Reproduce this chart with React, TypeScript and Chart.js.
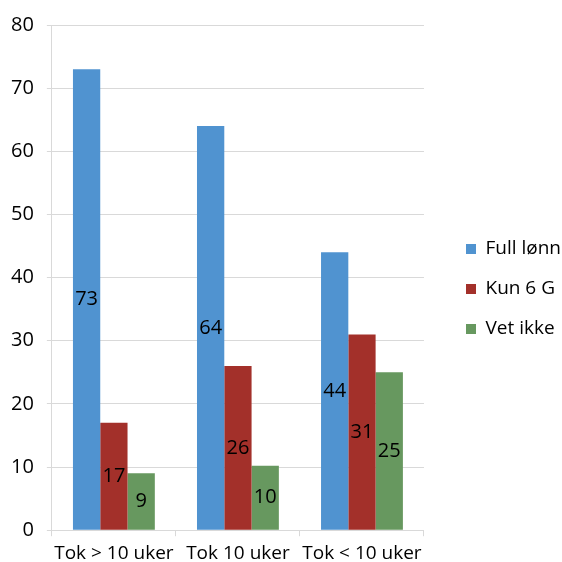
import React, { useEffect, useRef } from "react";
import { Chart, registerables } from "chart.js";

Chart.register(...registerables);

const categories = ["Tok > 10 uker", "Tok 10 uker", "Tok < 10 uker"];
const seriesNames = ["Full lønn", "Kun 6 G", "Vet ikke"];
const fullLonn = [73, 64, 44];
const kun6G = [17, 26, 31];
const vetIkke = [9, 10.2, 25];
const labelValues = [
  [73, 64, 44],
  [17, 26, 31],
  [9, 10, 25],
];
const yTicks = [0, 10, 20, 30, 40, 50, 60, 70, 80];

const colors = ["#5093d0", "#a3302a", "#67985f"];
const FONT = "'Open Sans', 'DejaVu Sans', sans-serif";
const LEGEND_PAD = 21;
const LEGEND_BOX_X = 466;

const valueLabelPlugin = {
  id: "valueLabels",
  afterDatasetsDraw(chart: any) {
    const ctx = chart.ctx;
    ctx.save();
    ctx.font = `20px ${FONT}`;
    ctx.fillStyle = "#000";
    ctx.textAlign = "center";
    ctx.textBaseline = "middle";
    chart.data.datasets.forEach((ds: any, di: number) => {
      const meta = chart.getDatasetMeta(di);
      meta.data.forEach((bar: any, i: number) => {
        const p = bar.getProps(["x", "y", "base"], true);
        ctx.fillText(String(labelValues[di][i]), p.x, (p.y + p.base) / 2);
      });
    });
    ctx.restore();
  },
};

const legendShiftPlugin = {
  id: "legendShift",
  afterLayout(chart: any) {
    const lg = chart.legend;
    if (!lg) return;
    const dx = LEGEND_BOX_X - (lg.left + LEGEND_PAD);
    lg.left += dx;
    lg.right += dx;
    lg.top -= 8;
    lg.bottom -= 8;
  },
};

export default function App() {
  const ref = useRef<HTMLCanvasElement | null>(null);
  useEffect(() => {
    if (!ref.current) return;
    const chart = new Chart(ref.current, {
      type: "bar",
      data: {
        labels: categories,
        datasets: [fullLonn, kun6G, vetIkke].map((d, i) => ({
          label: seriesNames[i],
          data: d,
          backgroundColor: colors[i],
          borderWidth: 0,
          categoryPercentage: 0.66,
          barPercentage: 1.0,
        })),
      },
      options: {
        animation: false,
        responsive: false,
        maintainAspectRatio: false,
        layout: { padding: { top: 23, left: -2, right: 12, bottom: 3 } },
        plugins: {
          tooltip: { enabled: false },
          legend: {
            position: "right",
            labels: {
              boxWidth: 10,
              boxHeight: 10,
              padding: LEGEND_PAD,
              color: "#000",
              font: { family: FONT, size: 19 },
            },
          },
        },
        scales: {
          x: {
            grid: {
              offset: true,
              drawOnChartArea: false,
              tickLength: 6,
              color: "#d9d9d9",
            },
            border: { color: "#d9d9d9" },
            ticks: {
              color: "#000",
              font: { family: FONT, size: 19 },
              padding: 6,
              maxRotation: 0,
              autoSkip: false,
            },
          },
          y: {
            min: 0,
            max: 80,
            afterBuildTicks: (axis: any) => {
              axis.ticks = yTicks.map((v) => ({ value: v }));
            },
            grid: { color: "#d9d9d9", tickLength: 5 },
            border: { color: "#d9d9d9" },
            ticks: {
              color: "#000",
              font: { family: FONT, size: 20 },
              padding: 13,
            },
          },
        },
      },
      plugins: [valueLabelPlugin, legendShiftPlugin],
    });
    return () => chart.destroy();
  }, []);
  return (
    <div style={{ position: "absolute", left: 0, top: 0, width: 562, height: 562, overflow: "hidden", background: "#fff" }}>
      <canvas ref={ref} width={562} height={574} style={{ display: "block" }} />
    </div>
  );
}
